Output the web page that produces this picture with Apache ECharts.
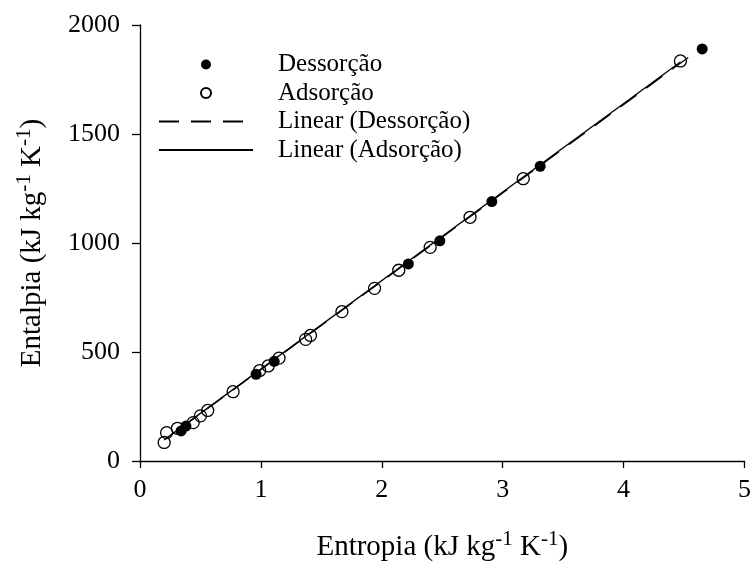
<!DOCTYPE html>
<html>
<head>
<meta charset="utf-8">
<script src="https://cdn.jsdelivr.net/npm/echarts@6/dist/echarts.min.js"></script>
<style>
html,body{margin:0;padding:0;background:#fff;}
#chart{width:754px;height:570px;}
</style>
</head>
<body>
<div id="chart"></div>
<script>
// Dessorção (filled circles)
const desX = [0.34, 0.38, 0.96, 1.11, 2.22, 2.48, 2.91, 3.31, 4.65];
const desY = [138, 160, 398, 457, 904, 1010, 1190, 1352, 1890];
// Adsorção (open circles)
const adsX = [0.20, 0.22, 0.31, 0.44, 0.50, 0.56, 0.77, 0.99, 1.06, 1.15, 1.37, 1.41, 1.67, 1.94, 2.14, 2.40, 2.73, 3.17, 4.47];
const adsY = [85, 130, 150, 176, 207, 232, 318, 415, 436, 472, 558, 576, 685, 792, 875, 980, 1118, 1295, 1835];
// Linear trend lines (endpoints)
const desLineX = [0.34, 4.65];
const desLineY = [152, 1898];
const adsLineX = [0.20, 4.47];
const adsLineY = [97, 1830];
// Axis ticks
const xTicks = [0, 1, 2, 3, 4, 5];
const yTicks = [0, 500, 1000, 1500, 2000];

const names = ['Dessorção', 'Adsorção', 'Linear (Dessorção)', 'Linear (Adsorção)'];
const FONT = "'Liberation Serif', 'Times New Roman', serif";
const zip = (xs, ys) => xs.map((x, i) => [x, ys[i]]);

const chart = echarts.init(document.getElementById('chart'), null, {renderer: 'canvas'});
chart.setOption({
  animation: false,
  backgroundColor: '#fff',
  grid: {left: 140, right: 8, top: 25, bottom: 107, containLabel: false},
  legend: {
    orient: 'vertical',
    left: 153,
    top: 47,
    itemWidth: 94,
    itemHeight: 10,
    itemGap: 3.5,
    selectedMode: false,
    data: [
      {name: names[0]},
      {name: names[1]},
      {name: names[2], itemStyle: {opacity: 0}},
      {name: names[3], itemStyle: {opacity: 0}}
    ],
    textStyle: {fontFamily: FONT, fontSize: 25, color: '#000', lineHeight: 25, padding: [0, 0, 0, 20]}
  },
  xAxis: {
    type: 'value',
    min: xTicks[0], max: xTicks[xTicks.length - 1], interval: 1,
    splitLine: {show: false},
    axisLine: {onZero: false, lineStyle: {color: '#000', width: 1.3}},
    axisTick: {inside: false, length: 7, lineStyle: {color: '#000', width: 1.3}},
    axisLabel: {fontFamily: FONT, fontSize: 26, color: '#000', margin: 16, formatter: v => String(v)},
    name: 'Entropia (kJ kg{sup|-1} K{sup|-1})',
    nameLocation: 'middle',
    nameGap: 68,
    nameTextStyle: {
      fontFamily: FONT, fontSize: 29, color: '#000', lineHeight: 36,
      rich: {sup: {fontFamily: FONT, fontSize: 21, color: '#000', verticalAlign: 'top', lineHeight: 36}}
    }
  },
  yAxis: {
    type: 'value',
    min: yTicks[0], max: yTicks[yTicks.length - 1], interval: 500,
    splitLine: {show: false},
    axisLine: {onZero: false, lineStyle: {color: '#000', width: 1.3}},
    axisTick: {inside: false, length: 8, lineStyle: {color: '#000', width: 1.3}},
    axisLabel: {fontFamily: FONT, fontSize: 26, color: '#000', margin: 20, formatter: v => String(v)},
    name: 'Entalpia (kJ kg{sup|-1} K{sup|-1})',
    nameLocation: 'middle',
    nameRotate: 90,
    nameGap: 90,
    nameTextStyle: {
      fontFamily: FONT, fontSize: 29, color: '#000', lineHeight: 36,
      rich: {sup: {fontFamily: FONT, fontSize: 21, color: '#000', verticalAlign: 'top', lineHeight: 36}}
    }
  },
  series: [
    {
      name: names[0], type: 'scatter', symbol: 'circle', symbolSize: 11,
      itemStyle: {color: '#000', opacity: 1},
      data: zip(desX, desY), z: 3
    },
    {
      name: names[1], type: 'scatter', symbol: 'circle', symbolSize: 12,
      itemStyle: {color: 'rgba(255,255,255,0)', borderColor: '#000', borderWidth: 1.3, opacity: 1},
      data: zip(adsX, adsY), z: 4
    },
    {
      name: names[2], type: 'line', symbol: 'none', showSymbol: false,
      lineStyle: {color: '#000', width: 1.3, type: [20, 12]},
      itemStyle: {color: '#000'},
      data: zip(desLineX, desLineY), z: 2
    },
    {
      name: names[3], type: 'line', symbol: 'none', showSymbol: false,
      lineStyle: {color: '#000', width: 1.3, type: 'solid'},
      itemStyle: {color: '#000'},
      data: zip(adsLineX, adsLineY), z: 2
    }
  ]
});
</script>
</body>
</html>
